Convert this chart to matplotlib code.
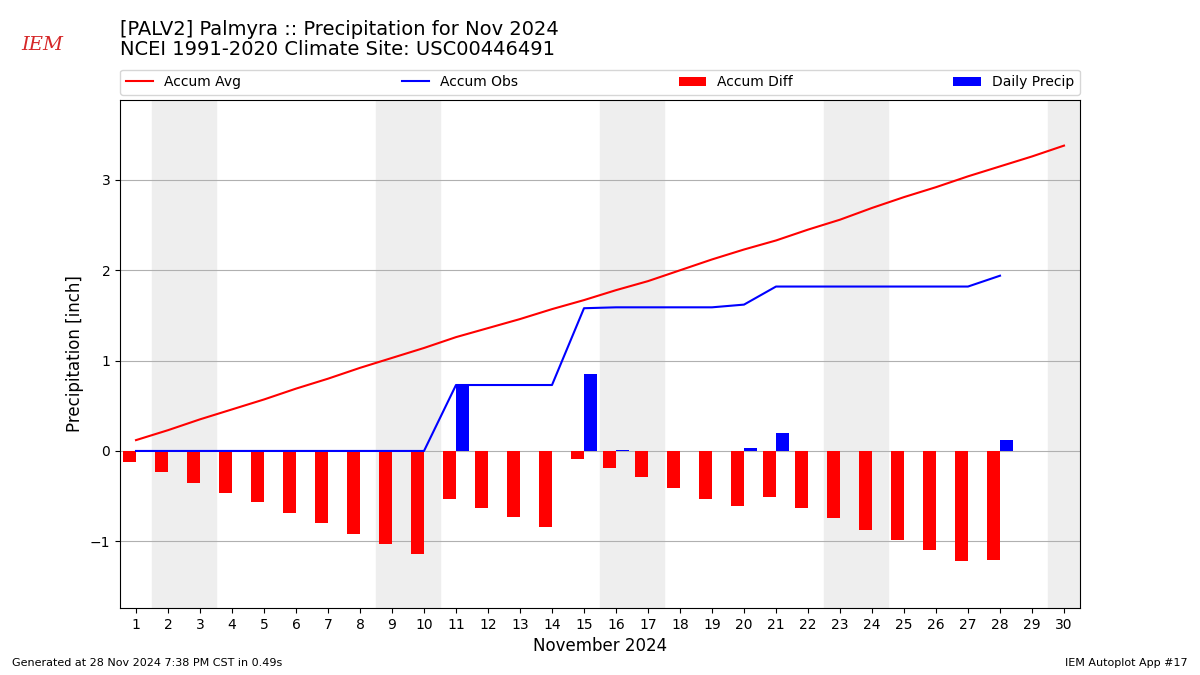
import matplotlib
matplotlib.use("Agg")
import matplotlib.pyplot as plt

days = list(range(1, 31))
accum_avg = [0.12, 0.23, 0.35, 0.46, 0.57, 0.69, 0.80, 0.92, 1.03, 1.14,
             1.26, 1.36, 1.46, 1.57, 1.67, 1.78, 1.88, 2.00, 2.12, 2.23,
             2.33, 2.45, 2.56, 2.69, 2.81, 2.92, 3.04, 3.15, 3.26, 3.38]
obs_days = list(range(1, 29))
daily_precip = [0, 0, 0, 0, 0, 0, 0, 0, 0, 0,
                0.73, 0, 0, 0, 0.85, 0.01, 0, 0, 0, 0.03,
                0.20, 0, 0, 0, 0, 0, 0, 0.12]
accum_obs = [0, 0, 0, 0, 0, 0, 0, 0, 0, 0,
             0.73, 0.73, 0.73, 0.73, 1.58, 1.59, 1.59, 1.59, 1.59, 1.62,
             1.82, 1.82, 1.82, 1.82, 1.82, 1.82, 1.82, 1.94]
accum_diff = [o - a for o, a in zip(accum_obs, accum_avg)]
weekend_days = [2, 3, 9, 10, 16, 17, 23, 24, 30]

fig = plt.figure(figsize=(12, 6.75), dpi=100)
ax = fig.add_axes([0.1, 0.0993, 0.8, 0.7527])

for d in weekend_days:
    ax.axvspan(d - 0.5, d + 0.5, color="#EEEEEE", zorder=0)

ax.plot(days, accum_avg, color="r", label="Accum Avg", zorder=3)
ax.plot(obs_days, accum_obs, color="b", label="Accum Obs", zorder=3)
ax.bar([d - 0.4 for d in obs_days], accum_diff, width=0.4, align="edge",
       color="r", label="Accum Diff", zorder=2)
ax.bar(obs_days, daily_precip, width=0.4, align="edge", color="b",
       label="Daily Precip", zorder=2)

ax.set_xlim(0.5, 30.5)
ax.set_ylim(-1.738, 3.886)
ax.set_xticks(days)
ax.set_yticks([-1, 0, 1, 2, 3])
ax.grid(axis="y", color="#b0b0b0", zorder=1)
ax.set_axisbelow(True)
ax.set_xlabel("November 2024", fontsize=12)
ax.set_ylabel("Precipitation [inch]", fontsize=12)
ax.legend(loc="lower left", bbox_to_anchor=(0, 1.01, 1, 0.05), ncol=4,
          mode="expand", borderaxespad=0, fontsize=10)

fig.text(0.1, 0.957, "[PALV2] Palmyra :: Precipitation for Nov 2024",
         fontsize=14, va="center")
fig.text(0.1, 0.926, "NCEI 1991-2020 Climate Site: USC00446491",
         fontsize=14, va="center")
fig.text(0.018, 0.933, "IEM", fontsize=14, color="#d62728", family="serif",
         style="italic", va="center")
fig.text(0.01, 0.013, "Generated at 28 Nov 2024 7:38 PM CST in 0.49s",
         fontsize=8)
fig.text(0.99, 0.013, "IEM Autoplot App #17", fontsize=8, ha="right")

fig.savefig("out.png")
